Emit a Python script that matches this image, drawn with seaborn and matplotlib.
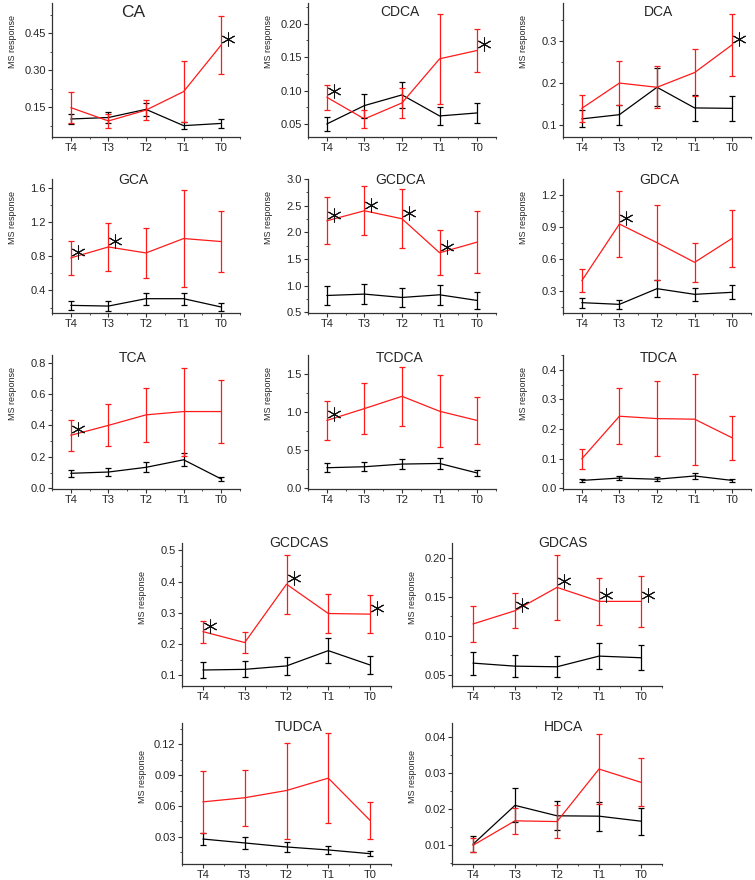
import numpy as np
import pandas as pd
import seaborn as sns
import matplotlib.pyplot as plt
from matplotlib.ticker import FixedLocator, AutoMinorLocator
from matplotlib.transforms import offset_copy

# time points, left to right
TIMES = ["T4", "T3", "T2", "T1", "T0"]

# control group (black) means and error bars
CTRL_MEAN = {
    "CA": [0.103, 0.109, 0.142, 0.076, 0.085],
    "CDCA": [0.050, 0.0775, 0.0935, 0.062, 0.0665],
    "DCA": [0.115, 0.125, 0.190, 0.141, 0.140],
    "GCA": [0.225, 0.217, 0.303, 0.303, 0.206],
    "GCDCA": [0.818, 0.844, 0.781, 0.831, 0.725],
    "GDCA": [0.188, 0.172, 0.319, 0.266, 0.285],
    "TCA": [0.095, 0.103, 0.133, 0.181, 0.059],
    "TCDCA": [0.269, 0.282, 0.317, 0.325, 0.200],
    "TDCA": [0.026, 0.034, 0.030, 0.041, 0.026],
    "GCDCAS": [0.117, 0.119, 0.130, 0.179, 0.133],
    "GDCAS": [0.0647, 0.0608, 0.060, 0.0737, 0.0716],
    "TUDCA": [0.028, 0.0242, 0.0203, 0.0174, 0.0138],
    "HDCA": [0.0103, 0.0211, 0.0182, 0.0181, 0.0167],
}
CTRL_ERR = {
    "CA": [0.020, 0.023, 0.025, 0.015, 0.017],
    "CDCA": [0.011, 0.018, 0.020, 0.0135, 0.0145],
    "DCA": [0.020, 0.024, 0.045, 0.030, 0.029],
    "GCA": [0.055, 0.055, 0.068, 0.068, 0.050],
    "GCDCA": [0.18, 0.19, 0.18, 0.19, 0.155],
    "GDCA": [0.047, 0.040, 0.078, 0.062, 0.067],
    "TCA": [0.023, 0.024, 0.032, 0.042, 0.015],
    "TCDCA": [0.060, 0.062, 0.070, 0.074, 0.043],
    "TDCA": [0.006, 0.008, 0.006, 0.009, 0.006],
    "GCDCAS": [0.026, 0.026, 0.028, 0.039, 0.029],
    "GDCAS": [0.0147, 0.014, 0.0136, 0.0166, 0.016],
    "TUDCA": [0.006, 0.0057, 0.005, 0.004, 0.0026],
    "HDCA": [0.0022, 0.0047, 0.004, 0.004, 0.0037],
}

# patient group (red) means and error bars
CASE_MEAN = {
    "CA": [0.149, 0.095, 0.139, 0.214, 0.403],
    "CDCA": [0.090, 0.0575, 0.0815, 0.1475, 0.160],
    "DCA": [0.140, 0.200, 0.190, 0.225, 0.291],
    "GCA": [0.779, 0.907, 0.837, 1.005, 0.970],
    "GCDCA": [2.217, 2.405, 2.255, 1.618, 1.818],
    "GDCA": [0.394, 0.925, 0.750, 0.566, 0.791],
    "TCA": [0.337, 0.400, 0.467, 0.488, 0.488],
    "TCDCA": [0.889, 1.045, 1.206, 1.010, 0.889],
    "TDCA": [0.099, 0.243, 0.235, 0.233, 0.170],
    "GCDCAS": [0.240, 0.205, 0.392, 0.298, 0.296],
    "GDCAS": [0.115, 0.132, 0.162, 0.144, 0.144],
    "TUDCA": [0.064, 0.068, 0.075, 0.087, 0.046],
    "HDCA": [0.010, 0.0168, 0.0166, 0.0312, 0.0275],
}
CASE_ERR = {
    "CA": [0.064, 0.028, 0.040, 0.125, 0.118],
    "CDCA": [0.019, 0.013, 0.022, 0.067, 0.032],
    "DCA": [0.032, 0.053, 0.050, 0.056, 0.074],
    "GCA": [0.20, 0.28, 0.29, 0.565, 0.36],
    "GCDCA": [0.44, 0.46, 0.555, 0.42, 0.58],
    "GDCA": [0.105, 0.31, 0.35, 0.18, 0.27],
    "TCA": [0.10, 0.134, 0.17, 0.28, 0.20],
    "TCDCA": [0.255, 0.33, 0.39, 0.47, 0.31],
    "TDCA": [0.034, 0.095, 0.127, 0.154, 0.074],
    "GCDCAS": [0.035, 0.033, 0.094, 0.064, 0.062],
    "GDCAS": [0.023, 0.0225, 0.042, 0.030, 0.033],
    "TUDCA": [0.030, 0.027, 0.0465, 0.0437, 0.018],
    "HDCA": [0.002, 0.0037, 0.0046, 0.0098, 0.0067],
}

# significant time points (asterisks next to the red point)
STARS = {
    "CA": ["T0"], "CDCA": ["T4", "T0"], "DCA": ["T0"],
    "GCA": ["T4", "T3"], "GCDCA": ["T4", "T3", "T2", "T1"], "GDCA": ["T3"],
    "TCA": ["T4"], "TCDCA": ["T4"],
    "GCDCAS": ["T4", "T2", "T0"], "GDCAS": ["T3", "T2", "T1", "T0"],
}

# y tick labels of each panel
YTICKS = {
    "CA": ["0.15", "0.30", "0.45"],
    "CDCA": ["0.05", "0.10", "0.15", "0.20"],
    "DCA": ["0.1", "0.2", "0.3"],
    "GCA": ["0.4", "0.8", "1.2", "1.6"],
    "GCDCA": ["0.5", "1.0", "1.5", "2.0", "2.5", "3.0"],
    "GDCA": ["0.3", "0.6", "0.9", "1.2"],
    "TCA": ["0.0", "0.2", "0.4", "0.6", "0.8"],
    "TCDCA": ["0.0", "0.5", "1.0", "1.5"],
    "TDCA": ["0.0", "0.1", "0.2", "0.3", "0.4"],
    "GCDCAS": ["0.1", "0.2", "0.3", "0.4", "0.5"],
    "GDCAS": ["0.05", "0.10", "0.15", "0.20"],
    "TUDCA": ["0.03", "0.06", "0.09", "0.12"],
    "HDCA": ["0.01", "0.02", "0.03", "0.04"],
}
YLIM = {
    "CA": (0.03, 0.573), "CDCA": (0.0305, 0.231), "DCA": (0.072, 0.39),
    "GCA": (0.136, 1.70), "GCDCA": (0.49, 3.0), "GDCA": (0.091, 1.347),
    "TCA": (-0.005, 0.848), "TCDCA": (-0.01, 1.748), "TDCA": (-0.003, 0.45),
    "GCDCAS": (0.0657, 0.524), "GDCAS": (0.0353, 0.219),
    "TUDCA": (0.0038, 0.1404), "HDCA": (0.0048, 0.044),
}

W, H = 755, 880
# panel boxes in pixels: name, left, top, right, bottom, title x, title y, ylabel y
rows3 = [(3, 137, 0.93, 0.71), (179, 313, 0.99, 0.71), (355, 489, 0.98, 0.71)]
cols3 = [(52, 240, 0.43), (308, 496, 0.49), (563, 751, 0.51)]
rows2 = [(543, 686, 1.0, 0.62), (723, 864, 0.97, 0.62)]
cols2 = [(182, 391, 0.56), (452, 662, 0.53)]
names3 = [["CA", "CDCA", "DCA"], ["GCA", "GCDCA", "GDCA"], ["TCA", "TCDCA", "TDCA"]]
names2 = [["GCDCAS", "GDCAS"], ["TUDCA", "HDCA"]]
slots = []
for r, (top, bot, ty, ly) in enumerate(rows3):
    for c, (lft, rgt, tx) in enumerate(cols3):
        slots.append((names3[r][c], lft, top, rgt, bot, tx, ty, ly))
for r, (top, bot, ty, ly) in enumerate(rows2):
    for c, (lft, rgt, tx) in enumerate(cols2):
        slots.append((names2[r][c], lft, top, rgt, bot, tx, ty, ly))

sns.set_theme(style="ticks")
plt.rcParams['font.family'] = ['Liberation Sans', 'DejaVu Sans']
fig = plt.figure(figsize=(W / 100, H / 100), dpi=100)

pos = np.arange(len(TIMES))
for name, lft, top, rgt, bot, tx, ty, ly in slots:
    ax = fig.add_axes([lft / W, 1 - bot / H, (rgt - lft) / W, (bot - top) / H])
    df = pd.DataFrame({
        "pos": np.concatenate([pos, pos]),
        "group": ["ctrl"] * 5 + ["case"] * 5,
        "mean": CTRL_MEAN[name] + CASE_MEAN[name],
        "err": CTRL_ERR[name] + CASE_ERR[name],
    })
    sns.lineplot(data=df, x="pos", y="mean", hue="group", hue_order=["ctrl", "case"],
                 palette={"ctrl": "black", "case": "#ff1a1a"}, legend=False,
                 lw=0.9, ax=ax)
    for grp, col in [("ctrl", "black"), ("case", "#ff1a1a")]:
        d = df[df["group"] == grp]
        ax.errorbar(d["pos"], d["mean"], yerr=d["err"], fmt="none", ecolor=col,
                    elinewidth=0.9, capsize=2, capthick=0.9, zorder=3)

    # asterisks, shifted a little right and up from the red point
    star_tr = offset_copy(ax.transData, fig=fig, x=7, y=6, units="dots")
    for t in STARS.get(name, []):
        i = TIMES.index(t)
        ax.plot([i], [CASE_MEAN[name][i]], marker=(6, 2, 0), ms=10, mec="#111111",
                mew=0.75, ls="none", transform=star_tr, clip_on=False, zorder=5)

    ax.set_xlim(-0.5, 4.5)
    ax.set_ylim(*YLIM[name])
    ax.set_xticks(pos)
    ax.set_xticklabels(TIMES)
    ax.yaxis.set_major_locator(FixedLocator([float(v) for v in YTICKS[name]]))
    ax.set_yticklabels(YTICKS[name])
    ax.xaxis.set_minor_locator(AutoMinorLocator(2))
    ax.yaxis.set_minor_locator(AutoMinorLocator(2))
    ax.tick_params(which="major", direction="out", length=3, width=0.8,
                   labelsize=8, pad=1.5, color="#333333")
    ax.tick_params(which="minor", direction="out", length=1.5, width=0.6, color="#333333")
    sns.despine(ax=ax)
    for s in ["left", "bottom"]:
        ax.spines[s].set_linewidth(0.9)
        ax.spines[s].set_color("#333333")

    ax.set_xlabel("")
    ax.set_ylabel("MS response", fontsize=6.5,
                  family=["Liberation Sans Narrow", "Liberation Sans", "DejaVu Sans"])
    ax.yaxis.set_label_coords(-35 / (rgt - lft), ly)
    ax.text(tx, ty, name, transform=ax.transAxes, ha="center", va="center",
            fontsize=12.5 if name == "CA" else 10)

fig.savefig("out.png", dpi=100)
